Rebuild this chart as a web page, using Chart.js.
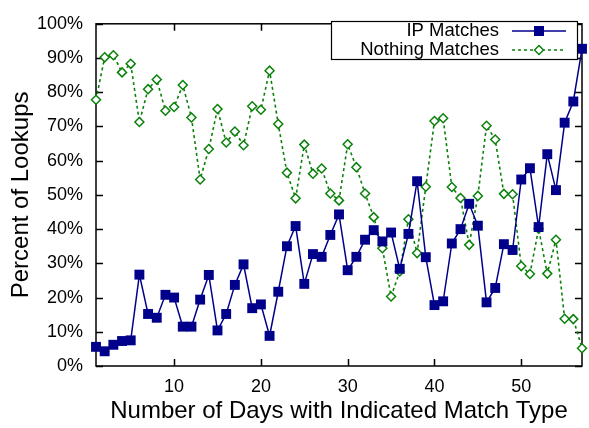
<!DOCTYPE html>
<html>
<head>
<meta charset="utf-8">
<script src="https://cdn.jsdelivr.net/npm/chart.js@4"></script>
<style>
  body { margin: 0; background: #fff; }
  canvas { display: block; }
</style>
</head>
<body>
<canvas id="chart" width="589" height="428"></canvas>
<script>
const days = [1, 2, 3, 4, 5, 6, 7, 8, 9, 10, 11, 12, 13, 14, 15, 16, 17, 18, 19, 20,
  21, 22, 23, 24, 25, 26, 27, 28, 29, 30, 31, 32, 33, 34, 35, 36, 37, 38, 39, 40,
  41, 42, 43, 44, 45, 46, 47, 48, 49, 50, 51, 52, 53, 54, 55, 56, 57];

const ipMatches = [5.6, 4.3, 6.2, 7.3, 7.5, 26.7, 15.2, 14.1, 20.8, 20.0,
  11.5, 11.5, 19.4, 26.6, 10.4, 15.2, 23.7, 29.7, 16.9, 18.0,
  8.8, 21.7, 35.0, 40.9, 24.0, 32.7, 31.9, 38.3, 44.3, 28.0,
  31.9, 36.9, 39.7, 36.4, 39.0, 28.4, 38.6, 54.0, 31.8, 17.8,
  18.9, 35.8, 40.0, 47.4, 41.0, 18.6, 22.8, 35.6, 33.9, 54.5,
  57.8, 40.6, 61.9, 51.4, 71.1, 77.3, 92.7];

const nothingMatches = [77.8, 90.2, 90.8, 85.8, 88.3, 71.3, 80.9, 83.7, 74.6, 75.7,
  82.1, 72.6, 54.5, 63.4, 75.1, 65.3, 68.5, 64.5, 75.9, 74.9,
  86.3, 70.7, 56.5, 49.0, 64.7, 56.2, 57.7, 50.4, 48.4, 64.8,
  58.1, 50.4, 43.5, 34.4, 20.3, 27.6, 42.9, 33.0, 52.4, 71.6,
  72.4, 52.3, 49.1, 35.4, 49.7, 70.2, 66.2, 50.3, 50.2, 29.2,
  26.9, 40.1, 27.0, 36.9, 13.8, 13.7, 5.2];

const xTicks = [10, 20, 30, 40, 50];
const seriesNames = ['IP Matches', 'Nothing Matches'];

const FONT = "'Liberation Sans', Arial, sans-serif";
const blue = '#00008b';
const green = '#0a800a';

// gnuplot style box with inward ticks on all four sides
const framePlugin = {
  id: 'frame',
  beforeDatasetsDraw(chart) {
    const {ctx, chartArea: a, scales: {x, y}} = chart;
    const len = 7;
    ctx.save();
    ctx.strokeStyle = '#000';
    ctx.lineWidth = 1.5;
    ctx.beginPath();
    x.ticks.forEach(t => {
      const px = Math.round(x.getPixelForValue(t.value)) + 0.5;
      ctx.moveTo(px, a.bottom); ctx.lineTo(px, a.bottom - len);
      ctx.moveTo(px, a.top); ctx.lineTo(px, a.top + len);
    });
    y.ticks.forEach(t => {
      const py = Math.round(y.getPixelForValue(t.value)) + 0.5;
      ctx.moveTo(a.left, py); ctx.lineTo(a.left + len, py);
      ctx.moveTo(a.right, py); ctx.lineTo(a.right - len, py);
    });
    ctx.stroke();
    ctx.strokeRect(a.left, a.top, a.right - a.left, a.bottom - a.top);
    ctx.restore();
  },
  afterDatasetsDraw(chart) {
    const {ctx} = chart;
    const box = {left: 331, top: 21, right: 577, bottom: 59};
    ctx.save();
    ctx.fillStyle = '#fff';
    ctx.fillRect(box.left, box.top, box.right - box.left, box.bottom - box.top);
    ctx.strokeStyle = '#000';
    ctx.lineWidth = 1.2;
    ctx.strokeRect(box.left + 0.5, box.top + 0.5, box.right - box.left, box.bottom - box.top);
    ctx.font = '18.5px ' + FONT;
    ctx.textAlign = 'right';
    ctx.textBaseline = 'middle';
    const rows = [31, 50];
    chart.data.datasets.forEach((ds, i) => {
      const yy = rows[i];
      ctx.fillStyle = '#000';
      ctx.fillText(ds.label, 499, yy);
      ctx.strokeStyle = ds.borderColor;
      ctx.lineWidth = ds.borderWidth;
      ctx.setLineDash(ds.borderDash || []);
      ctx.beginPath();
      ctx.moveTo(512, yy); ctx.lineTo(566, yy);
      ctx.stroke();
      ctx.setLineDash([]);
      const cx = 539;
      if (ds.pointStyle === 'rect') {
        ctx.fillStyle = ds.pointBackgroundColor;
        ctx.fillRect(cx - 5, yy - 5, 10, 10);
      } else {
        ctx.fillStyle = '#fff';
        ctx.lineWidth = 1.5;
        ctx.beginPath();
        ctx.moveTo(cx, yy - 4.5); ctx.lineTo(cx + 4.5, yy);
        ctx.lineTo(cx, yy + 4.5); ctx.lineTo(cx - 4.5, yy);
        ctx.closePath();
        ctx.fill(); ctx.stroke();
      }
    });
    ctx.restore();
  }
};

new Chart(document.getElementById('chart'), {
  type: 'line',
  data: {
    datasets: [
      {
        label: seriesNames[0],
        data: days.map((d, i) => ({x: d, y: ipMatches[i]})),
        borderColor: blue,
        backgroundColor: blue,
        borderWidth: 1.5,
        pointStyle: 'rect',
        pointRadius: 7,
        pointBackgroundColor: blue,
        pointBorderColor: blue,
        pointBorderWidth: 0,
        tension: 0,
        clip: false
      },
      {
        label: seriesNames[1],
        data: days.map((d, i) => ({x: d, y: nothingMatches[i]})),
        borderColor: green,
        backgroundColor: '#fff',
        borderWidth: 1.6,
        borderDash: [3, 3],
        pointStyle: 'rectRot',
        pointRadius: 4.5,
        pointBackgroundColor: '#fff',
        pointBorderColor: green,
        pointBorderWidth: 1.5,
        tension: 0,
        clip: false
      }
    ]
  },
  options: {
    responsive: false,
    animation: false,
    devicePixelRatio: 1,
    layout: {padding: {left: 0, right: 2, top: 12, bottom: 0}},
    plugins: {
      legend: {display: false},
      tooltip: {enabled: false}
    },
    scales: {
      x: {
        type: 'linear',
        min: 1,
        max: 57,
        afterBuildTicks: s => { s.ticks = xTicks.map(v => ({value: v})); },
        afterFit: s => { s.height = 62; },
        grid: {display: false, drawTicks: false},
        border: {display: false},
        ticks: {
          color: '#000',
          padding: 10,
          font: {family: FONT, size: 18}
        },
        title: {
          display: true,
          text: 'Number of Days with Indicated Match Type',
          color: '#000',
          font: {family: FONT, size: 24},
          padding: {top: 0, bottom: 2}
        }
      },
      y: {
        min: 0,
        max: 100,
        afterFit: s => { s.width = 96; },
        grid: {display: false, drawTicks: false},
        border: {display: false},
        ticks: {
          stepSize: 10,
          color: '#000',
          padding: 13,
          font: {family: FONT, size: 18},
          callback: v => v + '%'
        },
        title: {
          display: true,
          text: 'Percent of Lookups',
          color: '#000',
          font: {family: FONT, size: 24},
          padding: {top: 7, bottom: 0}
        }
      }
    }
  },
  plugins: [framePlugin]
});
</script>
</body>
</html>
